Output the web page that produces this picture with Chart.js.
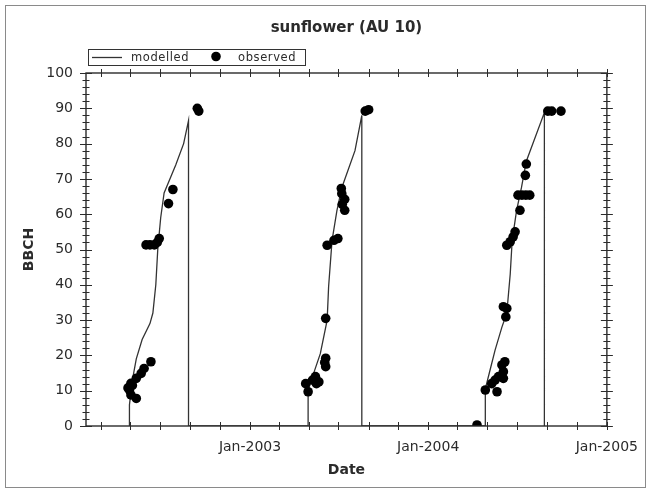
<!DOCTYPE html>
<html>
<head>
<meta charset="utf-8">
<script src="https://cdn.jsdelivr.net/npm/chart.js@4.4.1/dist/chart.umd.min.js"></script>
<style>
  html, body { margin: 0; padding: 0; background: #fff; }
  #wrap { position: relative; width: 651px; height: 492px; }
  #frame { position: absolute; left: 5px; top: 5px; width: 639px; height: 481px; border: 1px solid #8a8a8a; pointer-events: none; }
</style>
</head>
<body>
<div id="wrap">
  <canvas id="chart" width="651" height="492"></canvas>
  <div id="frame"></div>
</div>
<script>
// Modelled BBCH stage (one continuous line over the three seasons)
const MODEL_DATES = [
  '2002-04-29', '2002-04-29', '2002-05-05', '2002-05-13', '2002-05-25', '2002-06-10', '2002-06-16',
  '2002-06-22', '2002-06-26', '2002-07-02', '2002-07-09', '2002-08-02', '2002-08-18', '2002-08-28',
  '2002-08-28', '2002-08-28',
  '2003-04-30', '2003-04-30', '2003-05-09', '2003-05-25', '2003-06-08', '2003-06-11', '2003-06-18',
  '2003-06-28', '2003-07-08', '2003-08-04', '2003-08-18', '2003-08-18',
  '2004-04-27', '2004-04-27', '2004-05-07', '2004-05-17', '2004-05-31', '2004-06-10', '2004-06-17',
  '2004-06-21', '2004-06-30', '2004-07-10', '2004-07-20', '2004-08-26', '2004-08-26'
]
const MODEL_BBCH = [
  0, 6, 13, 19, 24.5, 29, 32, 40, 50, 59, 66, 74, 80, 86.5, 43, 0,
  0, 10, 14, 20.5, 30, 39.5, 52.5, 61, 67.5, 78, 88, 0,
  0, 10.5, 16, 21.5, 28, 32, 43, 52.5, 61, 67.5, 75, 88.8, 0
]

// Observed BBCH stage
const OBS_DATES = [
  '2002-04-26', '2002-04-29', '2002-05-02', '2002-05-02', '2002-05-05', '2002-05-13', '2002-05-13',
  '2002-05-23', '2002-05-29', '2002-06-12', '2002-06-02', '2002-06-10', '2002-06-19', '2002-06-25',
  '2002-06-29', '2002-07-18', '2002-07-27', '2002-09-15', '2002-09-18',
  '2003-04-25', '2003-04-30', '2003-05-09', '2003-05-15', '2003-05-17', '2003-05-22', '2003-06-03',
  '2003-06-05', '2003-06-05', '2003-06-05', '2003-06-08', '2003-06-22', '2003-06-30', '2003-07-07',
  '2003-07-08', '2003-07-09', '2003-07-14', '2003-07-14', '2003-08-25', '2003-09-01',
  '2004-04-10', '2004-04-27', '2004-05-10', '2004-05-17', '2004-05-21', '2004-05-24', '2004-05-31',
  '2004-06-03', '2004-06-03', '2004-06-06', '2004-06-03', '2004-06-10', '2004-06-08', '2004-06-10',
  '2004-06-17', '2004-06-23', '2004-06-27', '2004-07-07', '2004-07-03', '2004-07-11', '2004-07-19',
  '2004-07-27', '2004-07-18', '2004-07-20', '2004-09-02', '2004-09-10', '2004-09-29'
]
const OBS_BBCH = [
  10.8, 10.2, 12.1, 8.8, 11.5, 13.5, 7.8, 14.9, 16.3, 18.2, 51.3, 51.3, 51.3, 52, 53.1, 63, 67, 90, 89.2,
  12, 9.7, 13, 14, 12, 12.5, 18, 19.2, 16.8, 30.5, 51.2, 52.6, 53.1, 67.3, 65.8, 62.8, 64.2, 61.1, 89.2, 89.6,
  0.3, 10.2, 12, 13, 9.7, 14, 17.3, 15.4, 13.5, 18.2, 33.8, 33.3, 30.9, 51.2, 52.2, 53.6, 55, 61.1,
  65.4, 65.4, 65.4, 65.4, 71, 74.2, 89.2, 89.2, 89.2
]

const X_MIN = '2002-01-30'
const X_MAX = '2005-01-01'
const X_LABEL_DATES = ['2003-01-01', '2004-01-01', '2005-01-01']
const X_LABELS = ['Jan-2003', 'Jan-2004', 'Jan-2005']

const FONT = 'DejaVu Sans, Verdana, sans-serif'
const INK = '#2b2b2b'

// days since epoch, so the date axis can be a plain linear scale
const day = s => Date.UTC(+s.slice(0, 4), +s.slice(5, 7) - 1, +s.slice(8, 10)) / 864e5

// tick marks every two months (Mar, May, ..., Jan)
const tickDays = []
for (let y = 2002; y <= 2004; y++) {
  for (const m of [3, 5, 7, 9, 11]) tickDays.push(Date.UTC(y, m - 1, 1) / 864e5)
  tickDays.push(Date.UTC(y + 1, 0, 1) / 864e5)
}
const labelByDay = {}
X_LABEL_DATES.forEach((d, i) => { labelByDay[day(d)] = X_LABELS[i] })

const modelData = MODEL_DATES.map((d, i) => ({ x: day(d), y: MODEL_BBCH[i] }))
const obsData = OBS_DATES.map((d, i) => ({ x: day(d), y: OBS_BBCH[i] }))

// Box around the plot with cross ticks on all four sides, plus the boxed legend
const framePlugin = {
  id: 'frame',
  afterDraw(chart) {
    const { ctx, chartArea: a, scales: { x, y } } = chart
    ctx.save()
    ctx.strokeStyle = INK
    ctx.lineWidth = 1.4
    ctx.strokeRect(a.left, a.top, a.right - a.left, a.bottom - a.top)

    ctx.lineWidth = 1
    ctx.beginPath()
    for (let v = 0; v <= 100; v += 2) {
      const py = Math.round(y.getPixelForValue(v)) + 0.5
      const len = v % 10 === 0 ? 6 : 3.5
      ctx.moveTo(a.left - len, py); ctx.lineTo(a.left + len, py)
      ctx.moveTo(a.right - len, py); ctx.lineTo(a.right + len, py)
    }
    tickDays.forEach(d => {
      const px = Math.round(x.getPixelForValue(d)) + 0.5
      ctx.moveTo(px, a.bottom - 4); ctx.lineTo(px, a.bottom + 4)
      ctx.moveTo(px, a.top - 4); ctx.lineTo(px, a.top + 4)
    })
    ctx.stroke()

    // legend
    const ds = chart.data.datasets
    ctx.lineWidth = 1
    ctx.strokeStyle = '#333'
    ctx.strokeRect(88.5, 49.5, 217, 16)
    ctx.strokeStyle = ds[0].borderColor
    ctx.lineWidth = ds[0].borderWidth
    ctx.beginPath(); ctx.moveTo(92, 57.5); ctx.lineTo(122, 57.5); ctx.stroke()
    ctx.fillStyle = ds[1].backgroundColor
    ctx.beginPath(); ctx.arc(216, 56.5, ds[1].pointRadius, 0, Math.PI * 2); ctx.fill()
    ctx.fillStyle = INK
    ctx.font = '11.5px ' + FONT
    ctx.textBaseline = 'middle'
    if ('letterSpacing' in ctx) ctx.letterSpacing = '0.6px'
    ctx.fillText(ds[0].label, 131, 58)
    ctx.fillText(ds[1].label, 238, 58)
    ctx.restore()
  }
}

new Chart(document.getElementById('chart'), {
  type: 'scatter',
  data: {
    datasets: [
      { label: 'modelled', data: modelData, showLine: true, borderColor: '#333', borderWidth: 1.3,
        pointRadius: 0, tension: 0, order: 1 },
      { label: 'observed', data: obsData, backgroundColor: '#000', borderColor: '#000', borderWidth: 0,
        pointRadius: 4.8, order: 0 }
    ]
  },
  options: {
    responsive: false,
    animation: false,
    devicePixelRatio: 1,
    layout: { padding: { left: 0, right: 38, top: 0, bottom: 0 } },
    plugins: {
      legend: { display: false },
      tooltip: { enabled: false },
      title: {
        display: true, fullSize: false, text: 'sunflower (AU 10)', color: INK,
        font: { family: FONT, size: 15, weight: 'bold', lineHeight: 1.2 },
        padding: { top: 19, bottom: 36 }
      }
    },
    scales: {
      x: {
        type: 'linear', min: day(X_MIN), max: day(X_MAX),
        afterFit: s => { s.height = 66 },
        afterBuildTicks: s => { s.ticks = tickDays.map(v => ({ value: v })) },
        grid: { display: false, drawTicks: false, tickLength: 0 },
        border: { display: false },
        ticks: {
          autoSkip: false, maxRotation: 0, padding: 13, color: INK,
          font: { family: FONT, size: 14 },
          callback: v => labelByDay[v] || ''
        },
        title: { display: true, text: 'Date', color: INK, font: { family: FONT, size: 14, weight: 'bold' },
          padding: { top: 0, bottom: 13 } }
      },
      y: {
        min: 0, max: 100,
        afterFit: s => { s.width = 86 },
        grid: { display: false, drawTicks: false, tickLength: 0 },
        border: { display: false },
        ticks: { stepSize: 10, padding: 13, color: INK, font: { family: FONT, size: 14 } },
        title: { display: true, text: 'BBCH', color: INK, font: { family: FONT, size: 14, weight: 'bold' },
          padding: { top: 21, bottom: 0 } }
      }
    }
  },
  plugins: [framePlugin]
})
</script>
</body>
</html>
